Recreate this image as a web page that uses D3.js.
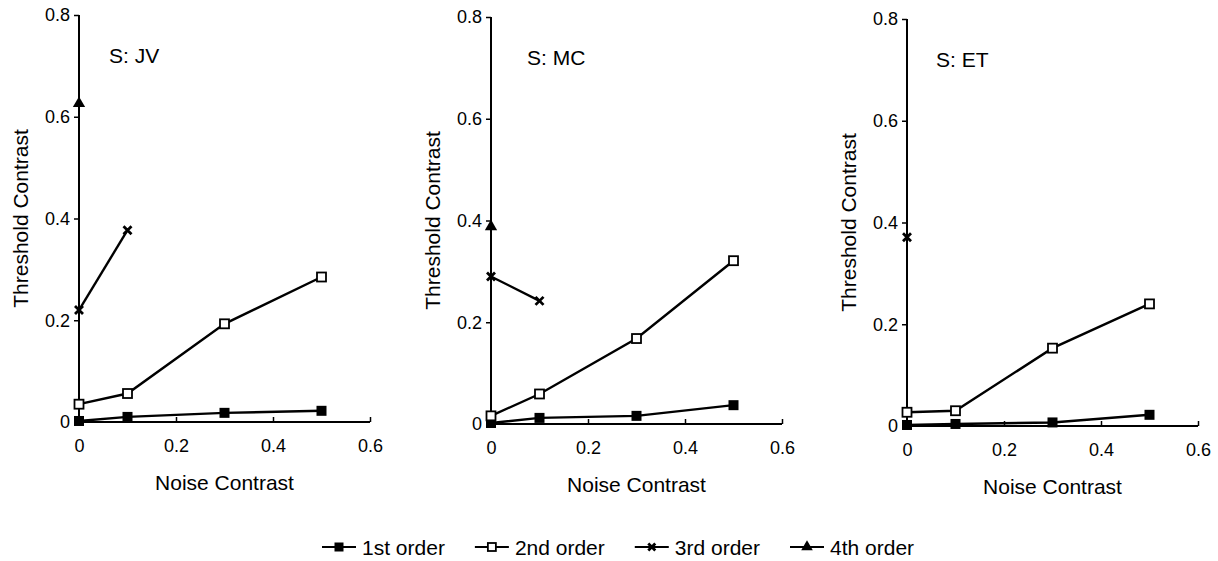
<!DOCTYPE html>
<html>
<head>
<meta charset="utf-8">
<script src="https://cdn.jsdelivr.net/npm/d3@7"></script>
<style>
  body { margin: 0; background: #fff; }
  text { font-family: 'Liberation Sans', Arial, sans-serif; fill: #000; }
</style>
</head>
<body>
<div id="chart"></div>
<script>
// noise contrast levels shared by all panels
const noiseLevels = [0, 0.1, 0.3, 0.5];
const subjects = ['JV', 'MC', 'ET'];
const seriesNames = ['1st order', '2nd order', '3rd order', '4th order'];
const xTicks = [0, 0.2, 0.4, 0.6];
const yTicks = [0, 0.2, 0.4, 0.6, 0.8];

// threshold contrast per subject (rows) and noise level (columns); null = not measured
const firstOrder = [
  [0.002, 0.010, 0.018, 0.022],
  [0.002, 0.012, 0.016, 0.037],
  [0.002, 0.004, 0.007, 0.022],
];
const secondOrder = [
  [0.035, 0.056, 0.193, 0.285],
  [0.016, 0.059, 0.168, 0.321],
  [0.027, 0.030, 0.153, 0.240],
];
const thirdOrder = [
  [0.220, 0.377, null, null],
  [0.290, 0.242, null, null],
  [0.371, null, null, null],
];
const fourthOrder = [
  [0.626, null, null, null],
  [0.388, null, null, null],
  [null, null, null, null],
];

const series = [firstOrder, secondOrder, thirdOrder, fourthOrder];
const markers = ['filledSquare', 'openSquare', 'cross', 'triangle'];

// panel placement (scan is slightly tilted so each panel sits a bit lower)
const panels = [
  { left: 79, top: 15, labelDx: 30 },
  { left: 491, top: 17, labelDx: 36 },
  { left: 907, top: 19, labelDx: 29 },
];
const plotW = 291;
const plotH = 407;

const fmt = (d) => (d === 0 ? '0' : d3.format('.1f')(d));

const svg = d3.select('#chart')
  .append('svg')
  .attr('width', 1218)
  .attr('height', 561);

function drawMarker(g, type, cx, cy, size = 10) {
  const h = size / 2;
  if (type === 'filledSquare') {
    g.append('rect')
      .attr('x', cx - h).attr('y', cy - h)
      .attr('width', size).attr('height', size)
      .attr('fill', '#000');
  } else if (type === 'openSquare') {
    g.append('rect')
      .attr('x', cx - h + 0.5).attr('y', cy - h + 0.5)
      .attr('width', size - 1).attr('height', size - 1)
      .attr('fill', '#fff')
      .attr('stroke', '#000')
      .attr('stroke-width', 1.8);
  } else if (type === 'cross') {
    const c = h - 1;
    g.append('path')
      .attr('d', `M${cx - c},${cy - c}L${cx + c},${cy + c}M${cx - c},${cy + c}L${cx + c},${cy - c}`)
      .attr('stroke', '#000')
      .attr('stroke-width', 2.8);
  } else {
    g.append('path')
      .attr('d', d3.symbol(d3.symbolTriangle, size * 6.5)())
      .attr('transform', `translate(${cx},${cy})`)
      .attr('fill', '#000');
  }
}

panels.forEach((p, i) => {
  const x = d3.scaleLinear().domain([0, 0.6]).range([0, plotW]);
  const y = d3.scaleLinear().domain([0, 0.8]).range([plotH, 0]);

  const g = svg.append('g')
    .attr('transform', `translate(${p.left},${p.top})`);

  // y axis, ticks outward
  const yAxis = g.append('g')
    .call(d3.axisLeft(y).tickValues(yTicks).tickFormat(fmt).tickSize(5).tickPadding(4));
  yAxis.select('.domain').attr('d', `M0,${plotH}V0`).attr('stroke-width', 2);
  yAxis.selectAll('.tick line').attr('stroke-width', 1.5);
  yAxis.selectAll('text')
    .style('font-family', "'Liberation Sans', Arial, sans-serif")
    .style('font-size', '18px');

  // x axis, ticks pointing up into the plot
  const xAxis = g.append('g')
    .attr('transform', `translate(0,${plotH})`)
    .call(d3.axisBottom(x).tickValues(xTicks).tickFormat(fmt).tickSize(0).tickPadding(0));
  xAxis.select('.domain').attr('d', `M0,0H${plotW}`).attr('stroke-width', 2);
  xAxis.selectAll('.tick').append('line')
    .attr('y1', 0).attr('y2', -5)
    .attr('stroke', '#000')
    .attr('stroke-width', 1.5);
  xAxis.selectAll('text')
    .attr('y', 30)
    .attr('dy', 0)
    .style('font-family', "'Liberation Sans', Arial, sans-serif")
    .style('font-size', '18px');

  g.append('text')
    .attr('x', plotW / 2)
    .attr('y', plotH + 68)
    .attr('text-anchor', 'middle')
    .style('font-size', '21px')
    .text('Noise Contrast');

  g.append('text')
    .attr('transform', `translate(-51,${plotH / 2}) rotate(-90)`)
    .attr('text-anchor', 'middle')
    .style('font-size', '21px')
    .text('Threshold Contrast');

  g.append('text')
    .attr('x', p.labelDx)
    .attr('y', y(0.72) + 7.5)
    .style('font-size', '21px')
    .text(`S: ${subjects[i]}`);

  series.forEach((s, k) => {
    const pts = noiseLevels
      .map((n, j) => ({ n, v: s[i][j] }))
      .filter((d) => d.v !== null);

    const line = d3.line().x((d) => x(d.n)).y((d) => y(d.v));
    if (pts.length > 1) {
      g.append('path')
        .attr('d', line(pts))
        .attr('fill', 'none')
        .attr('stroke', '#000')
        .attr('stroke-width', 2.4);
    }
    const mg = g.append('g');
    pts.forEach((d) => drawMarker(mg, markers[k], x(d.n), y(d.v)));
  });
});

// legend along the bottom
const legend = svg.append('g').attr('transform', 'translate(322,547)');
let lx = 0;
seriesNames.forEach((name, k) => {
  const item = legend.append('g').attr('transform', `translate(${lx},0)`);
  item.append('line')
    .attr('x1', 0).attr('x2', 34)
    .attr('stroke', '#000')
    .attr('stroke-width', 2);
  drawMarker(item, markers[k], 17, 0, 9);
  const t = item.append('text')
    .attr('x', 40)
    .attr('y', 7.5)
    .style('font-size', '21px')
    .text(name);
  lx += 40 + t.node().getComputedTextLength() + 30;
});
</script>
</body>
</html>
